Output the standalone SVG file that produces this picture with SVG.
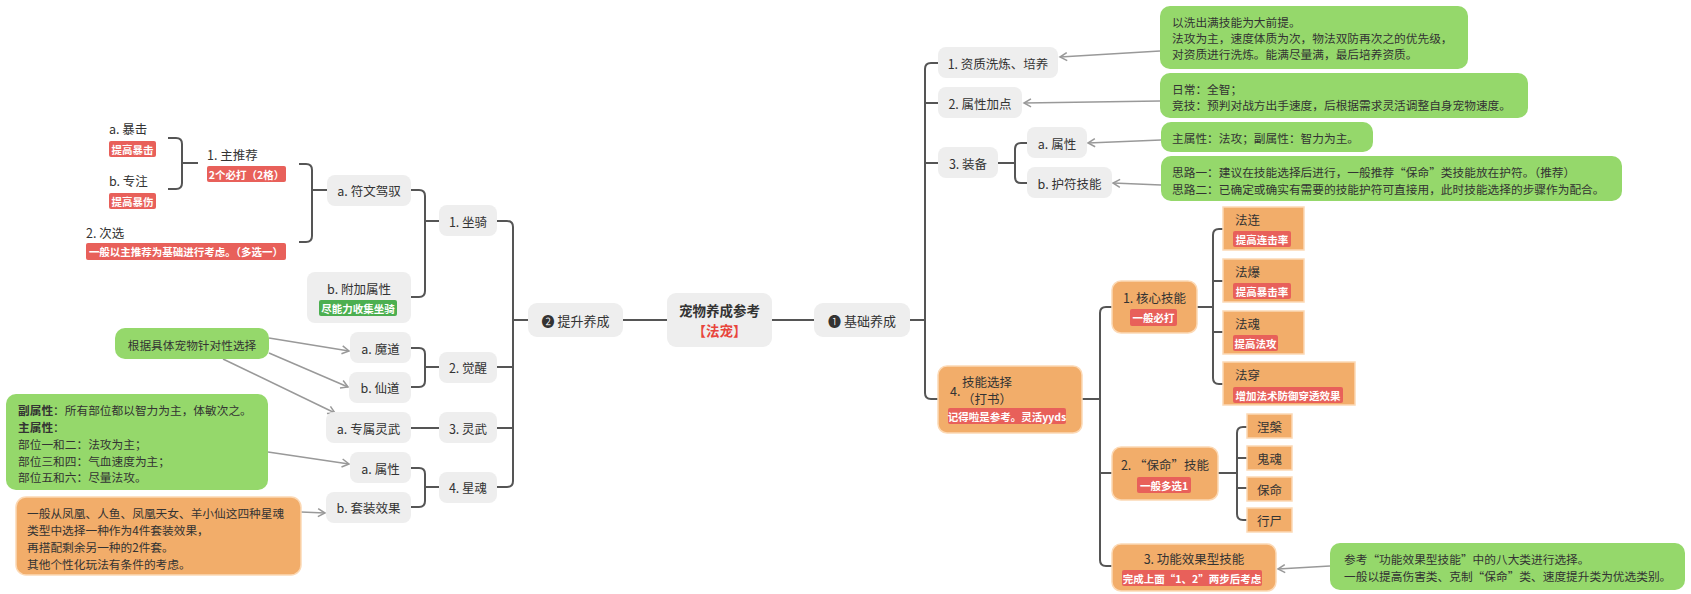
<svg xmlns="http://www.w3.org/2000/svg" width="1691" height="594" viewBox="0 0 1691 594">
<defs>
<marker id="ah" markerWidth="10" markerHeight="10" refX="8" refY="5" orient="auto" markerUnits="userSpaceOnUse">
<path d="M1,1 L8,5 L1,9" fill="none" stroke="#999" stroke-width="1.5"/>
</marker>
<style>
.box{fill:#eeeeee}
.org{fill:#f2ad6a;stroke:#fcd9b5;stroke-width:1.5}
.grn{fill:#95d86b}
.tagr{fill:#e8605a}
.tagg{fill:#4caf50}
text{font-family:"Noto Sans CJK SC","Noto Sans",sans-serif;font-size:12.5px;fill:#333;dominant-baseline:central}
.m{text-anchor:middle}
.tg{font-size:10.5px;font-weight:bold;fill:#fff}
.n{font-size:11.7px}
.lk{fill:none;stroke:#555;stroke-width:2}
.ar{fill:none;stroke:#999;stroke-width:1.5;marker-end:url(#ah)}
</style>
</defs>
<rect width="1691" height="594" fill="#fff"/>

<g id="connectors">
<path class="lk" d="M772,320 H814"/>
<path class="lk" d="M623,320 H667"/>
<path class="lk" d="M910,320 H925"/>
<path class="lk" d="M938,63 H931 Q925,63 925,69 V393 Q925,399 931,399 H938"/>
<path class="lk" d="M925,103 H938 M925,163 H938"/>
<path class="lk" d="M998,163 H1015 M1027,143 H1021 Q1015,143 1015,149 V177 Q1015,183 1021,183 H1027"/>
<path class="lk" d="M1082,399 H1100 M1112,307 H1106 Q1100,307 1100,313 V560 Q1100,566 1106,566 H1112 M1100,473 H1112"/>
<path class="lk" d="M1197,307 H1213 M1223,229 H1219 Q1213,229 1213,235 V378 Q1213,384 1219,384 H1223 M1213,281 H1223 M1213,332 H1223"/>
<path class="lk" d="M1218,473 H1237 M1247,427 H1243 Q1237,427 1237,433 V514 Q1237,520 1243,520 H1247 M1237,458 H1247 M1237,488 H1247"/>
<path class="lk" d="M528,320 H513 M497,221 H507 Q513,221 513,227 V481 Q513,487 507,487 H497 M513,367 H497 M513,428 H497"/>
<path class="lk" d="M411,190 H419 Q425,190 425,196 V291 Q425,297 419,297 H411 M425,221 H439"/>
<path class="lk" d="M411,348 H419 Q425,348 425,354 V381 Q425,387 419,387 H411 M425,367 H439"/>
<path class="lk" d="M411,428 H439"/>
<path class="lk" d="M411,468 H419 Q425,468 425,474 V501 Q425,507 419,507 H411 M425,487 H439"/>
<path class="lk" d="M327,190 H312 M299,164 H306 Q312,164 312,170 V236 Q312,242 306,242 H299"/>
<path class="lk" d="M198,163 H182 M168,138 H176 Q182,138 182,144 V183 Q182,189 176,189 H168"/>
<path class="ar" d="M1160,51 L1060,57"/>
<path class="ar" d="M1160,101 L1024,103"/>
<path class="ar" d="M1161,140 L1088,143"/>
<path class="ar" d="M1161,185 L1113,183"/>
<path class="ar" d="M1330,566 L1278,569"/>
<path class="ar" d="M269,338 L349,351"/>
<path class="ar" d="M269,353 L348,387"/>
<path class="ar" d="M223,359 L335,413"/>
<path class="ar" d="M268,452 L349,464"/>
<path class="ar" d="M301,512 L325,513"/>
</g>

<g id="root">
<rect class="box" x="667" y="293" width="105" height="54" rx="9"/>
<text class="m" x="719.5" y="310" style="font-size:13.5px;font-weight:bold">宠物养成参考</text>
<text class="m" x="719.5" y="330" style="font-size:13.5px;font-weight:bold;fill:#e8453c">【法宠】</text>
</g>

<g id="n-basic"><rect class="box" x="814" y="303" width="96" height="34" rx="9"/><text class="m" x="862" y="320" style="font-size:13px">❶ 基础养成</text></g>
<g id="n-up"><rect class="box" x="528" y="303" width="95" height="34" rx="9"/><text class="m" x="575.5" y="320" style="font-size:13px">❷ 提升养成</text></g>

<g id="n-r1"><rect class="box" x="938" y="47" width="120" height="31" rx="8"/><text class="m" x="998" y="63">1. 资质洗炼、培养</text></g>
<g id="n-r2"><rect class="box" x="938" y="87" width="84" height="31" rx="8"/><text class="m" x="980" y="103">2. 属性加点</text></g>
<g id="n-r3"><rect class="box" x="938" y="147" width="60" height="31" rx="8"/><text class="m" x="968" y="163">3. 装备</text></g>
<g id="n-r3a"><rect class="box" x="1027" y="127" width="60" height="31" rx="8"/><text class="m" x="1057" y="143">a. 属性</text></g>
<g id="n-r3b"><rect class="box" x="1027" y="167" width="85" height="31" rx="8"/><text class="m" x="1069.5" y="183">b. 护符技能</text></g>

<g id="n-r4"><rect class="org" x="938" y="366" width="144" height="67" rx="9"/>
<text x="950" y="390">4.</text>
<text class="m" x="987" y="381">技能选择</text>
<text class="m" x="987" y="398">（打书）</text>
<rect class="tagr" x="948" y="408" width="118" height="16" rx="2"/><text class="m tg" x="1007" y="416">记得啦是参考。灵活yyds</text></g>

<g id="n-core"><rect class="org" x="1112" y="281" width="85" height="52" rx="9"/>
<text class="m" x="1154.5" y="297">1. 核心技能</text>
<rect class="tagr" x="1130" y="309" width="47" height="17" rx="2"/><text class="m tg" x="1153.5" y="317.5">一般必打</text></g>

<g id="n-save"><rect class="org" x="1112" y="447" width="106" height="53" rx="9"/>
<text class="m" x="1165" y="464">2. “保命”技能</text>
<rect class="tagr" x="1137" y="477" width="54" height="16" rx="2"/><text class="m tg" x="1164" y="485">一般多选1</text></g>

<g id="n-func"><rect class="org" x="1112" y="544" width="164" height="47" rx="9"/>
<text class="m" x="1194" y="558">3. 功能效果型技能</text>
<rect class="tagr" x="1122" y="570" width="140" height="16" rx="2"/><text class="m tg" x="1192" y="578">完成上面“1、2”两步后考虑</text></g>

<g id="n-falian"><rect class="org" x="1223" y="207" width="81" height="43"/><text x="1235" y="219">法连</text>
<rect class="tagr" x="1233" y="231" width="58" height="16" rx="2"/><text class="m tg" x="1262" y="239">提高连击率</text></g>
<g id="n-fabao"><rect class="org" x="1223" y="259" width="81" height="43"/><text x="1235" y="271">法爆</text>
<rect class="tagr" x="1233" y="283" width="58" height="16" rx="2"/><text class="m tg" x="1262" y="291">提高暴击率</text></g>
<g id="n-fahun"><rect class="org" x="1223" y="311" width="81" height="43"/><text x="1235" y="323">法魂</text>
<rect class="tagr" x="1233" y="335" width="45" height="16" rx="2"/><text class="m tg" x="1255.5" y="343">提高法攻</text></g>
<g id="n-fachuan"><rect class="org" x="1223" y="362" width="132" height="43"/><text x="1235" y="374">法穿</text>
<rect class="tagr" x="1233" y="387" width="110" height="16" rx="2"/><text class="m tg" x="1288" y="395">增加法术防御穿透效果</text></g>

<g id="n-niepan"><rect class="org" x="1247" y="414" width="45" height="24"/><text class="m" x="1269.5" y="426">涅槃</text></g>
<g id="n-guihun"><rect class="org" x="1247" y="446" width="45" height="24"/><text class="m" x="1269.5" y="458">鬼魂</text></g>
<g id="n-baoming"><rect class="org" x="1247" y="477" width="45" height="24"/><text class="m" x="1269.5" y="489">保命</text></g>
<g id="n-xingshi"><rect class="org" x="1247" y="508" width="45" height="24"/><text class="m" x="1269.5" y="520">行尸</text></g>

<g id="g1"><rect class="grn" x="1160" y="6" width="308" height="63" rx="10"/>
<text class="n" x="1172" y="21">以洗出满技能为大前提。</text>
<text class="n" x="1172" y="37">法攻为主，速度体质为次，物法双防再次之的优先级，</text>
<text class="n" x="1172" y="53">对资质进行洗炼。能满尽量满，最后培养资质。</text></g>
<g id="g2"><rect class="grn" x="1160" y="73" width="368" height="45" rx="10"/>
<text class="n" x="1172" y="88">日常：全智；</text>
<text class="n" x="1172" y="104">竞技：预判对战方出手速度，后根据需求灵活调整自身宠物速度。</text></g>
<g id="g3"><rect class="grn" x="1161" y="122" width="212" height="30" rx="10"/>
<text class="n" x="1172" y="137">主属性：法攻；副属性：智力为主。</text></g>
<g id="g4"><rect class="grn" x="1161" y="156" width="461" height="45" rx="10"/>
<text class="n" x="1172" y="171">思路一：建议在技能选择后进行，一般推荐“保命”类技能放在护符。（推荐）</text>
<text class="n" x="1172" y="188">思路二：已确定或确实有需要的技能护符可直接用，此时技能选择的步骤作为配合。</text></g>
<g id="g5"><rect class="grn" x="1330" y="543" width="355" height="47" rx="10"/>
<text class="n" x="1344" y="558">参考“功能效果型技能”中的八大类进行选择。</text>
<text class="n" x="1344" y="575">一般以提高伤害类、克制“保命”类、速度提升类为优选类别。</text></g>

<g id="n-zuoqi"><rect class="box" x="439" y="205" width="58" height="31" rx="8"/><text class="m" x="468" y="221">1. 坐骑</text></g>
<g id="n-fuwen"><rect class="box" x="327" y="175" width="84" height="31" rx="8"/><text class="m" x="369" y="190">a. 符文驾驭</text></g>
<g id="n-fujia"><rect class="box" x="307" y="272" width="104" height="51" rx="8"/><text class="m" x="359" y="288">b. 附加属性</text>
<rect class="tagg" x="319" y="300" width="78" height="16" rx="2"/><text class="m tg" x="358" y="308">尽能力收集坐骑</text></g>
<g id="n-zhutuijian"><text x="207" y="154">1. 主推荐</text>
<rect class="tagr" x="207" y="166" width="79" height="16" rx="2"/><text class="m tg" x="246.5" y="174">2个必打（2格）</text></g>
<g id="n-baoji"><text x="109" y="128">a. 暴击</text>
<rect class="tagr" x="109" y="141" width="47" height="16" rx="2"/><text class="m tg" x="132.5" y="149">提高暴击</text></g>
<g id="n-zhuanzhu"><text x="109" y="180">b. 专注</text>
<rect class="tagr" x="109" y="193" width="47" height="16" rx="2"/><text class="m tg" x="132.5" y="201">提高暴伤</text></g>
<g id="n-cixuan"><text x="86" y="232">2. 次选</text>
<rect class="tagr" x="86" y="243" width="200" height="17" rx="2"/><text class="m tg" x="186" y="251.5">一般以主推荐为基础进行考虑。（多选一）</text></g>

<g id="n-juexing"><rect class="box" x="439" y="352" width="58" height="31" rx="8"/><text class="m" x="468" y="367">2. 觉醒</text></g>
<g id="n-modao"><rect class="box" x="350" y="332" width="61" height="31" rx="8"/><text class="m" x="380.5" y="348">a. 魔道</text></g>
<g id="n-xiandao"><rect class="box" x="349" y="372" width="62" height="31" rx="8"/><text class="m" x="380" y="387">b. 仙道</text></g>
<g id="n-lingwu"><rect class="box" x="439" y="412" width="58" height="31" rx="8"/><text class="m" x="468" y="428">3. 灵武</text></g>
<g id="n-zhuanshu"><rect class="box" x="326" y="412" width="85" height="31" rx="8"/><text class="m" x="368.5" y="428">a. 专属灵武</text></g>
<g id="n-xinghun"><rect class="box" x="439" y="472" width="58" height="31" rx="8"/><text class="m" x="468" y="487">4. 星魂</text></g>
<g id="n-shuxing"><rect class="box" x="350" y="452" width="61" height="31" rx="8"/><text class="m" x="380.5" y="468">a. 属性</text></g>
<g id="n-taozhuang"><rect class="box" x="326" y="492" width="85" height="31" rx="8"/><text class="m" x="368.5" y="507">b. 套装效果</text></g>

<g id="g6"><rect class="grn" x="115" y="328" width="154" height="31" rx="10"/><text class="n m" x="192" y="344">根据具体宠物针对性选择</text></g>
<g id="g7"><rect class="grn" x="6" y="394" width="262" height="96" rx="10"/>
<text class="n" x="18" y="409"><tspan font-weight="bold">副属性</tspan>：所有部位都以智力为主，体敏次之。</text>
<text class="n" x="18" y="426"><tspan font-weight="bold">主属性</tspan>：</text>
<text class="n" x="18" y="443">部位一和二：法攻为主；</text>
<text class="n" x="18" y="460">部位三和四：气血速度为主；</text>
<text class="n" x="18" y="476">部位五和六：尽量法攻。</text></g>
<g id="o-left"><rect class="org" x="16" y="497" width="285" height="78" rx="10"/>
<text class="n" x="27" y="512">一般从凤凰、人鱼、凤凰天女、羊小仙这四种星魂</text>
<text class="n" x="27" y="529">类型中选择一种作为4件套装效果，</text>
<text class="n" x="27" y="546">再搭配剩余另一种的2件套。</text>
<text class="n" x="27" y="563">其他个性化玩法有条件的考虑。</text></g>
</svg>
